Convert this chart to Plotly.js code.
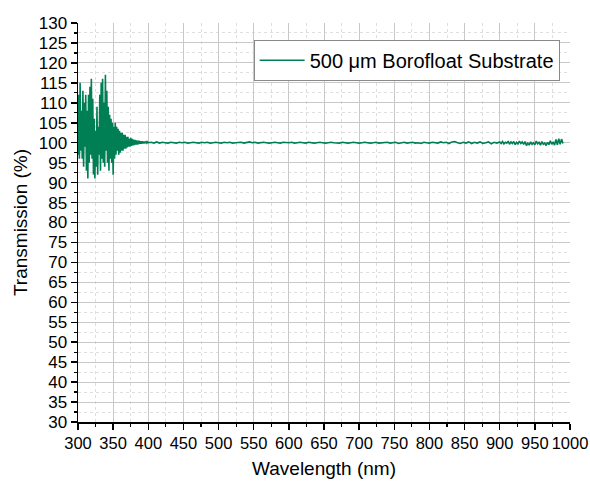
<!DOCTYPE html>
<html>
<head>
<meta charset="utf-8">
<script src="https://cdn.plot.ly/plotly-3.0.1.min.js"></script>
<style>html,body{margin:0;padding:0;background:#fff;}#chart{width:590px;height:485px;}</style>
</head>
<body>
<div id="chart"></div>
<script>
// Segment 1: 300–400 nm, 1 nm step
const seg1Start = 300, seg1Step = 1;
const seg1Trans = [
  97, 112, 96, 115, 98, 108, 96, 113, 94, 110,
  99, 112, 93, 108, 91, 112, 95, 114, 97, 116,
  96, 111, 92, 106, 91, 103, 94, 109, 92, 104,
  97, 112, 93, 115, 96, 116, 95, 110, 94, 117,
  98, 113, 95, 109, 93, 107, 96, 106, 95, 105,
  92, 104, 96, 105, 97, 104, 98, 103.5, 97, 103,
  97.5, 102.5, 98, 102.5, 98, 102, 98.5, 102, 98.5, 101.5,
  98.8, 101.5, 99, 101, 99, 101.2, 99.2, 101, 99.3, 100.8,
  99.4, 100.7, 99.5, 100.6, 99.5, 100.5, 99.6, 100.5, 99.7, 100.4,
  99.7, 100.4, 99.8, 100.3, 99.8, 100.3, 99.9, 100.2, 99.9, 100.2,
  100.0
];
// Segment 2: 404–900 nm, 4 nm step
const seg2Start = 404, seg2Step = 4;
const seg2Trans = [
  100.1, 99.9, 100.2, 99.9, 100.1, 100.0, 99.9, 100.1, 100.0, 99.9, 100.1, 100.0, 100.1, 99.9, 100.0, 100.1, 100.0, 99.9, 100.1, 100.0, 100.1, 99.9, 100.0, 100.1, 100.0,
  99.9, 100.1, 100.0, 100.1, 99.9, 100.0, 100.0, 100.1, 99.9, 100.1, 100.2, 100.0, 100.1, 99.9, 100.0, 100.1, 100.0, 99.9, 100.0, 100.1, 100.0, 99.9, 100.1, 100.0, 100.0,
  100.1, 99.9, 100.0, 100.1, 100.0, 99.9, 100.1, 100.0, 99.9, 100.0, 100.1, 100.0, 99.9, 100.0, 100.1, 100.0, 100.0, 99.9, 100.1, 100.0, 99.9, 100.0, 100.1, 100.0, 99.9,
  100.0, 100.1, 100.0, 99.9, 100.0, 100.1, 99.9, 100.0, 100.0, 100.1, 99.9, 100.0, 100.1, 99.8, 100.0, 100.1, 99.9, 100.0, 100.1, 99.9, 100.0, 99.8, 100.1, 100.0, 99.9,
  100.1, 100.0, 99.9, 100.2, 100.0, 100.1, 99.8, 100.2, 100.3, 100.0, 99.8, 100.1, 99.9, 100.2, 99.8, 100.1, 99.9, 100.2, 99.8, 100.0, 100.2, 99.7, 100.1, 99.9, 100.2
];
// Segment 3: 902–990 nm, 2 nm step
const seg3Start = 902, seg3Step = 2;
const seg3Trans = [
  99.8, 100.3, 99.7, 100.1, 99.9, 100.4, 99.6, 100.2, 99.8, 100.3,
  99.5, 100.1, 99.7, 100.4, 99.8, 100.2, 99.6, 100.3, 99.3, 99.9,
  99.4, 100.2, 99.6, 100.0, 99.5, 100.4, 99.7, 100.1, 99.4, 100.3,
  99.6, 99.9, 99.3, 100.1, 99.5, 100.5, 99.6, 100.2, 99.4, 100.8,
  99.5, 101.0, 99.6, 100.9, 99.8
];

const seriesName = '500 \u03bcm Borofloat Substrate';
const xTitle = 'Wavelength (nm)';
const yTitle = 'Transmission (%)';

const wl = [], tr = [];
[[seg1Start, seg1Step, seg1Trans], [seg2Start, seg2Step, seg2Trans], [seg3Start, seg3Step, seg3Trans]].forEach(([s, st, vals]) => {
  vals.forEach((v, i) => { wl.push(s + i * st); tr.push(v); });
});

const FONT = 'Liberation Sans, Arial, sans-serif';
const trace = {
  x: wl, y: tr, type: 'scatter', mode: 'lines', name: seriesName,
  line: {color: '#007f55', width: 1.6}
};
const layout = {
  width: 590, height: 485,
  margin: {l: 78, r: 20, t: 23, b: 63},
  paper_bgcolor: '#fff', plot_bgcolor: '#fff',
  font: {family: FONT, color: '#000', size: 17},
  showlegend: true,
  legend: {
    x: 0.357, y: 0.958, xanchor: 'left', yanchor: 'top',
    bordercolor: '#8a8a8a', borderwidth: 1, bgcolor: '#fff',
    font: {family: FONT, size: 20, color: '#000'}, itemwidth: 45,
    tracegroupgap: 0
  },
  xaxis: {
    range: [300, 1000], dtick: 50, tick0: 300,
    ticklabeloverflow: 'allow',
    showline: true, linecolor: '#000', linewidth: 1.5,
    ticks: 'outside', ticklen: 6, tickwidth: 1.5, tickcolor: '#000',
    showgrid: true, gridcolor: '#c8c8c8', gridwidth: 1, zeroline: false,
    tickfont: {size: 16.5, family: FONT},
    minor: {dtick: 25, ticks: 'outside', ticklen: 3, tickwidth: 1.2, tickcolor: '#000', showgrid: true, gridcolor: '#dedede', griddash: 'dot', gridwidth: 1},
    title: {text: xTitle, font: {size: 19, family: FONT}, standoff: 10}
  },
  yaxis: {
    range: [30, 130], dtick: 5, tick0: 30,
    showline: true, linecolor: '#000', linewidth: 1.5,
    ticks: 'outside', ticklen: 6, tickwidth: 1.5, tickcolor: '#000',
    showgrid: true, gridcolor: '#c8c8c8', gridwidth: 1, zeroline: false,
    tickfont: {size: 17, family: FONT},
    minor: {dtick: 2.5, ticks: 'outside', ticklen: 3, tickwidth: 1.2, tickcolor: '#000', showgrid: true, gridcolor: '#dedede', griddash: 'dot', gridwidth: 1},
    title: {text: yTitle, font: {size: 19, family: FONT}, standoff: 6}
  }
};
Plotly.newPlot('chart', [trace], layout, {displayModeBar: false, staticPlot: true});
</script>
</body>
</html>
